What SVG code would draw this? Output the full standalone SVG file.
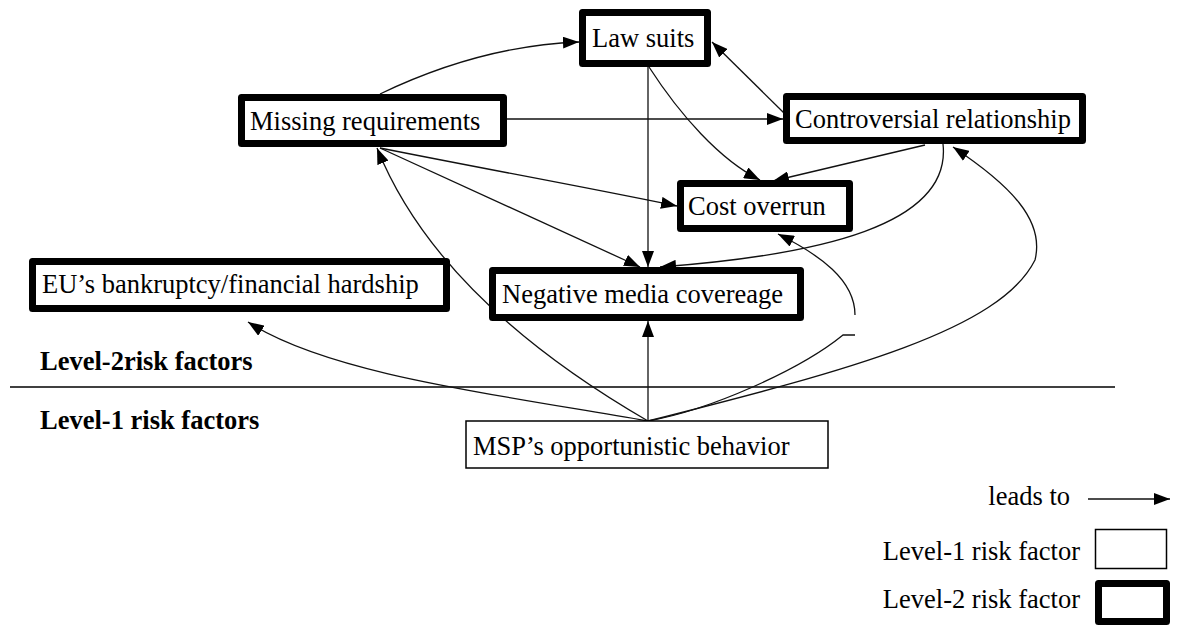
<svg xmlns="http://www.w3.org/2000/svg" width="1179" height="628" viewBox="0 0 1179 628">
  <style>
    text { font-family: "Liberation Serif", "Times New Roman", serif; font-size: 26.5px; fill: #000; }
    .bold { font-weight: bold; }
    .l2 { fill: #fff; stroke: #000; stroke-width: 7; stroke-linejoin: round; }
    .l1 { fill: #fff; stroke: #000; stroke-width: 1.5; }
    .edge { fill: none; stroke: #111; stroke-width: 1.3; }
    .arrow { marker-end: url(#head); }
  </style>
  <defs>
    <marker id="head" markerUnits="userSpaceOnUse" markerWidth="16" markerHeight="12" refX="16" refY="6" orient="auto">
      <path d="M0,0 L16,6 L0,12 z" fill="#000"/>
    </marker>
  </defs>

  <rect width="1179" height="628" fill="#fff"/>

  <!-- level separator and labels -->
  <line x1="10" y1="387" x2="1115" y2="387" stroke="#000" stroke-width="1.5"/>
  <text class="bold" x="40" y="370">Level-2risk factors</text>
  <text class="bold" x="40" y="429">Level-1 risk factors</text>

  <!-- connectors -->
  <g id="connectors">
    <path class="edge arrow" d="M380,94 C430,70 500,45 579,42"/>
    <path class="edge arrow" d="M648,67 L648,267"/>
    <path class="edge arrow" d="M649,67 C680,115 720,160 760,180"/>
    <path class="edge arrow" d="M507,119 L783,119"/>
    <path class="edge arrow" d="M784,113 L712,42"/>
    <path class="edge arrow" d="M380,148 C480,168 580,186 677,206"/>
    <path class="edge arrow" d="M380,148 L640,267"/>
    <path class="edge arrow" d="M925,145 L773,181"/>
    <path class="edge arrow" d="M943,144 C952,225 820,255 660,267"/>
    <path class="edge arrow" d="M648,421 L648,321"/>
    <path class="edge arrow" d="M648,421 C560,370 430,280 377,148"/>
    <path class="edge arrow" d="M648,421 C500,395 330,375 248,322"/>
    <path class="edge" d="M648,421 C710,410 800,370 843,335 L855,335"/>
    <path class="edge arrow" d="M855,315 C855,280 820,255 778,234"/>
    <path class="edge arrow" d="M648,421 C850,370 1000,330 1035,260 C1045,220 1010,185 953,147"/>
  </g>

  <!-- nodes -->
  <g id="law-suits">
    <rect class="l2" x="582.5" y="12.5" width="125" height="51"/>
    <text x="592" y="47">Law suits</text>
  </g>
  <g id="missing-requirements">
    <rect class="l2" x="241.5" y="97.5" width="262" height="46"/>
    <text x="250" y="130">Missing requirements</text>
  </g>
  <g id="controversial-relationship">
    <rect class="l2" x="786.5" y="96.5" width="296" height="44"/>
    <text x="795" y="128">Controversial relationship</text>
  </g>
  <g id="cost-overrun">
    <rect class="l2" x="680.5" y="183.5" width="169" height="45"/>
    <text x="688" y="215">Cost overrun</text>
  </g>
  <g id="negative-media">
    <rect class="l2" x="492.5" y="270.5" width="308" height="47"/>
    <text x="502" y="303">Negative media covereage</text>
  </g>
  <g id="eu-bankruptcy">
    <rect class="l2" x="32.5" y="261.5" width="414" height="47"/>
    <text x="42" y="293">EU’s bankruptcy/financial hardship</text>
  </g>
  <g id="msp-behavior">
    <rect class="l1" x="466" y="421" width="362" height="47"/>
    <text x="473" y="455">MSP’s opportunistic behavior</text>
  </g>

  <!-- legend -->
  <g id="legend">
    <text x="1070" y="505" text-anchor="end">leads to</text>
    <path class="edge arrow" d="M1088,499 L1170,499"/>
    <text x="1080" y="560" text-anchor="end">Level-1 risk factor</text>
    <rect class="l1" x="1095.5" y="529.5" width="71" height="39"/>
    <text x="1080" y="608" text-anchor="end">Level-2 risk factor</text>
    <rect class="l2" x="1098.5" y="583.5" width="68" height="38"/>
  </g>
</svg>
